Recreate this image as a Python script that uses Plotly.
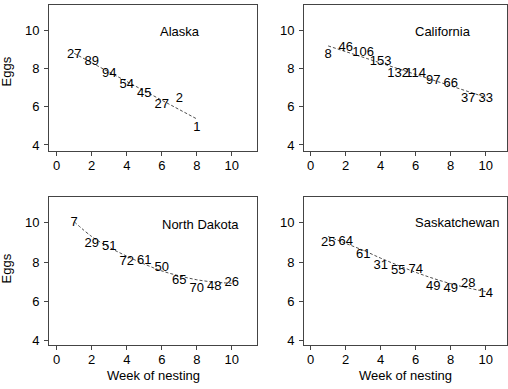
import plotly.graph_objects as go

weeks = [1, 2, 3, 4, 5, 6, 7, 8, 9, 10]

# Alaska
ak_weeks = [1, 2, 3, 4, 5, 6, 7, 8]
ak_eggs = [8.70, 8.35, 7.74, 7.13, 6.65, 6.12, 6.40, 4.92]
ak_n = ["27", "89", "94", "54", "45", "27", "2", "1"]
ak_fit_x = [1, 8]
ak_fit_y = [8.78, 5.36]

# California
ca_eggs = [8.70, 9.08, 8.82, 8.35, 7.70, 7.70, 7.34, 7.22, 6.39, 6.39]
ca_n = ["8", "46", "106", "153", "132", "114", "97", "66", "37", "33"]
ca_fit_x = [1, 10]
ca_fit_y = [9.17, 6.49]

# North Dakota
nd_eggs = [10.0, 8.95, 8.78, 8.02, 8.07, 7.73, 7.05, 6.63, 6.75, 6.95]
nd_n = ["7", "29", "51", "72", "61", "50", "65", "70", "48", "26"]
nd_fit_y = [10.05, 9.3, 8.75, 8.3, 7.9, 7.55, 7.3, 7.1, 6.98, 6.92]

# Saskatchewan
sk_eggs = [9.0, 9.03, 8.36, 7.81, 7.54, 7.60, 6.75, 6.63, 6.88, 6.41]
sk_n = ["25", "64", "61", "31", "55", "74", "49", "49", "28", "14"]
sk_fit_y = [9.3, 8.95, 8.6, 8.2, 7.83, 7.48, 7.17, 6.9, 6.68, 6.5]

x_ticks = [0, 2, 4, 6, 8, 10]
y_ticks = [4, 6, 8, 10]

FONT = "Liberation Sans, Arial, sans-serif"
W, H = 508, 389

panels = [
    ("Alaska", ak_weeks, ak_eggs, ak_n, ak_fit_x, ak_fit_y, "linear", (7.05, 9.9), (49, 257), (4.7, 151.3), [-0.44, 11.44], [3.67, 11.32]),
    ("California", weeks, ca_eggs, ca_n, ca_fit_x, ca_fit_y, "linear", (7.56, 9.9), (304, 507), (4.7, 151.3), [-0.38, 11.22], [3.67, 11.32]),
    ("North Dakota", weeks, nd_eggs, nd_n, weeks, nd_fit_y, "spline", (8.19, 9.92), (49, 257), (197, 345), [-0.44, 11.44], [3.78, 11.31]),
    ("Saskatchewan", weeks, sk_eggs, sk_n, weeks, sk_fit_y, "spline", (8.38, 10.0), (304, 507), (197, 345), [-0.38, 11.22], [3.78, 11.31]),
]

fig = go.Figure()
layout = dict(
    width=W, height=H,
    margin=dict(l=0, r=0, t=0, b=0),
    paper_bgcolor="white", plot_bgcolor="white",
    showlegend=False,
    font=dict(family=FONT, size=13, color="black"),
    annotations=[],
)

for i, (name, xs, ys, labels, fx, fy, shape, tpos, xd, yd, xr, yr) in enumerate(panels):
    k = "" if i == 0 else str(i + 1)
    xa, ya = "x" + k, "y" + k
    fig.add_trace(go.Scatter(
        x=fx, y=fy, mode="lines", xaxis=xa, yaxis=ya,
        line=dict(color="#222", width=0.8, dash="3px,2px", shape=shape, smoothing=1.0),
        hoverinfo="skip",
    ))
    fig.add_trace(go.Scatter(
        x=xs, y=ys, mode="text", text=labels, xaxis=xa, yaxis=ya,
        textposition="middle center",
        textfont=dict(family=FONT, size=13, color="black"),
    ))
    axis_common = dict(
        showline=True, mirror=True, linecolor="#444", linewidth=1,
        showgrid=False, zeroline=False, ticks="outside", ticklen=4,
        tickcolor="#444", tickwidth=1, automargin=False,
        tickfont=dict(family=FONT, size=13, color="black"),
    )
    layout["xaxis" + k] = dict(
        axis_common, domain=[xd[0] / W, xd[1] / W], range=xr,
        tickvals=x_ticks, anchor=ya, ticklabelstandoff=-2,
    )
    layout["yaxis" + k] = dict(
        axis_common, domain=[1 - yd[1] / H, 1 - yd[0] / H], range=yr,
        tickvals=y_ticks, anchor=xa, ticklabelstandoff=2,
    )
    layout["annotations"].append(dict(
        x=tpos[0], y=tpos[1], xref=xa, yref=ya, text=name, showarrow=False,
        xanchor="center", yanchor="middle",
        font=dict(family=FONT, size=13, color="black"),
    ))

for yc in (71.5, 268.5):
    layout["annotations"].append(dict(
        x=6 / W, y=1 - yc / H, xref="paper", yref="paper", text="Eggs",
        textangle=-90, showarrow=False, xanchor="center", yanchor="middle",
        font=dict(family=FONT, size=13, color="black"),
    ))
for xc in (153, 405):
    layout["annotations"].append(dict(
        x=xc / W, y=1 - 375 / H, xref="paper", yref="paper", text="Week of nesting",
        showarrow=False, xanchor="center", yanchor="middle",
        font=dict(family=FONT, size=13, color="black"),
    ))

fig.update_layout(**layout)
fig.write_html("out.html")
